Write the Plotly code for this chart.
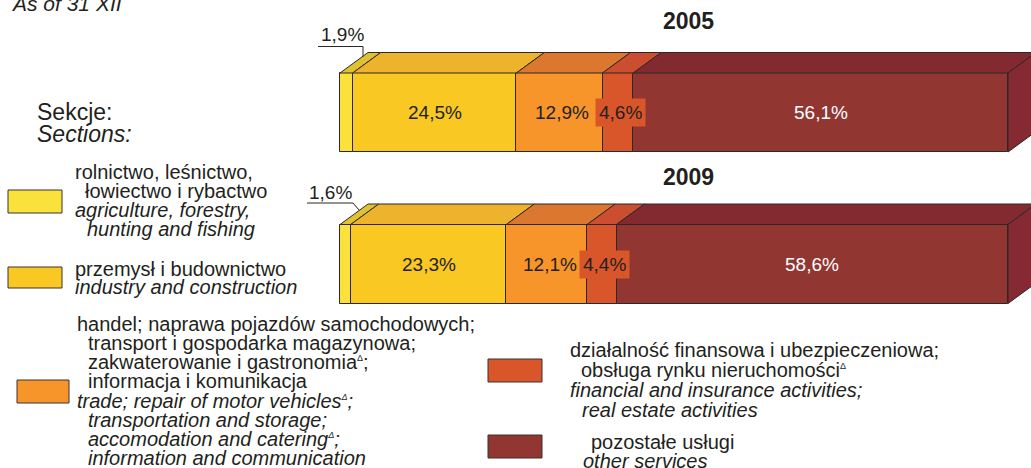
import plotly.graph_objects as go

# ---------------- data ----------------
years = ["2005", "2009"]
year_pos = [1.0, 0.0]
sections = [
    "rolnictwo, leśnictwo, łowiectwo i rybactwo",
    "przemysł i budownictwo",
    "handel; naprawa pojazdów samochodowych; transport i gospodarka magazynowa; zakwaterowanie i gastronomia; informacja i komunikacja",
    "działalność finansowa i ubezpieczeniowa; obsługa rynku nieruchomości",
    "pozostałe usługi",
]
values_2005 = [1.9, 24.5, 12.9, 4.6, 56.1]
values_2009 = [1.6, 23.3, 12.1, 4.4, 58.6]

# ---------------- styles ----------------
front_colors = ["#FBE13B", "#F9C823", "#F7952A", "#D9562B", "#923631"]
top_colors = ["#DFC22F", "#EDB32C", "#DB772E", "#CB4E31", "#832A31"]
side_color = "#852A32"
edge = "#2E2727"
txt = "#231F20"
FONT = "Liberation Sans, Arial, sans-serif"

W, H = 1031, 468
PX_X = 6.68          # px per percent
X0_PX = 340          # px of 0%
PX_Y = 151.5         # px per y unit
Y1_PX = 112.5        # px of centre of y=1
BAR_W = 79 / PX_Y
DX = 28 / PX_X
DY = 20.5 / PX_Y


def dxp(px):
    return px / PX_X


def dyp(px):
    return -px / PX_Y


def ppx(x):
    return x / W


def ppy(y):
    return 1 - y / H


fig = go.Figure()

all_vals = [values_2005, values_2009]
cums = []
for vals in all_vals:
    c, s = [], 0.0
    for v in vals:
        c.append(s)
        s += v
    cums.append(c)

# front faces
for i in range(len(sections)):
    fig.add_trace(go.Bar(
        orientation="h",
        y=year_pos,
        x=[all_vals[0][i], all_vals[1][i]],
        base=[cums[0][i], cums[1][i]],
        width=BAR_W,
        marker=dict(color=front_colors[i], line=dict(color=edge, width=1)),
        showlegend=False, hoverinfo="skip", textposition="none",
    ))

# top faces
for i in range(len(sections)):
    xs, ys = [], []
    for j, yp in enumerate(year_pos):
        x0 = cums[j][i]
        x1 = x0 + all_vals[j][i]
        yt = yp + BAR_W / 2
        xs += [x0, x1, x1 + DX, x0 + DX, x0, None]
        ys += [yt, yt, yt + DY, yt + DY, yt, None]
    fig.add_trace(go.Scatter(
        x=xs, y=ys, mode="lines", fill="toself", fillcolor=top_colors[i],
        line=dict(color=edge, width=1), showlegend=False, hoverinfo="skip",
    ))

# right side face of the last segment
xs, ys = [], []
for j, yp in enumerate(year_pos):
    T = cums[j][-1] + all_vals[j][-1]
    yt = yp + BAR_W / 2
    yb = yp - BAR_W / 2
    xs += [T, T, T + DX, T + DX, T, None]
    ys += [yb, yt, yt + DY, yb + DY, yb, None]
fig.add_trace(go.Scatter(
    x=xs, y=ys, mode="lines", fill="toself", fillcolor=side_color,
    line=dict(color=edge, width=1), showlegend=False, hoverinfo="skip",
))


def fmt(v):
    return f"{v:.1f}".replace(".", ",") + "%"


annotations = []
# value labels inside the bars
for j, yp in enumerate(year_pos):
    for i in range(1, len(sections)):
        v = all_vals[j][i]
        a = dict(x=cums[j][i] + v / 2, y=yp, xref="x", yref="y", text=fmt(v),
                 xanchor="center", yanchor="middle",
                 showarrow=False, font=dict(family=FONT, size=19,
                                            color="#FFFFFF" if i == 4 else txt))
        if i == 2:
            a["xshift"] = 3
        if i == 3:
            a["bgcolor"] = front_colors[3]
            a["borderpad"] = 3
            a["xshift"] = 3
        annotations.append(a)

# small first segment labels with leader lines
leader_px = [
    [(-50, -6), (-5, -6), (-5, 4)],
    [(-61, -1), (-15, -1), (-9, 6)],
]
label_px = [(-26, -18), (-38, -12)]
for j, yp in enumerate(year_pos):
    bx = cums[j][0] + DX
    by = yp + BAR_W / 2 + DY
    pts = leader_px[j]
    fig.add_trace(go.Scatter(
        x=[bx + dxp(p[0]) for p in pts], y=[by + dyp(p[1]) for p in pts],
        mode="lines", line=dict(color=edge, width=1),
        showlegend=False, hoverinfo="skip", cliponaxis=False,
    ))
    annotations.append(dict(
        x=bx + dxp(label_px[j][0]), y=by + dyp(label_px[j][1]), xref="x", yref="y",
        xanchor="center", yanchor="middle",
        text=fmt(all_vals[j][0]), showarrow=False,
        font=dict(family=FONT, size=19, color=txt)))

# year titles
for yr, ypix in zip(years, [21, 177]):
    annotations.append(dict(x=ppx(688), y=ppy(ypix), xref="paper", yref="paper",
                            xanchor="center", yanchor="middle",
                            text=f"<b>{yr}</b>", showarrow=False,
                            font=dict(family=FONT, size=23, color=txt)))

# header texts
annotations.append(dict(x=ppx(9), y=ppy(4), xref="paper", yref="paper",
                        xanchor="left", yanchor="middle",
                        text="<i>As of 31 XII</i>", showarrow=False,
                        font=dict(family=FONT, size=21, color=txt)))
annotations.append(dict(x=ppx(35), y=ppy(112), xref="paper", yref="paper",
                        xanchor="left", yanchor="middle",
                        text="Sekcje:", showarrow=False,
                        font=dict(family=FONT, size=23, color=txt)))
annotations.append(dict(x=ppx(35), y=ppy(134), xref="paper", yref="paper",
                        xanchor="left", yanchor="middle",
                        text="<i>Sections:</i>", showarrow=False,
                        font=dict(family=FONT, size=23, color=txt)))

# legend
D = '<sup><span style="font-size:9px">Δ</span></sup>'
legend_items = [
    ((8, 190, 62, 213), 0, [
        (73, 172, "rolnictwo, leśnictwo,", False),
        (83, 191, "łowiectwo i rybactwo", False),
        (73, 210, "agriculture, forestry,", True),
        (85, 229, "hunting and fishing", True)]),
    ((8, 267, 62, 288), 1, [
        (73, 269, "przemysł i budownictwo", False),
        (73, 287, "industry and construction", True)]),
    ((17, 380, 69, 403), 2, [
        (75, 324, "handel; naprawa pojazdów samochodowych;", False),
        (86, 343, "transport i gospodarka magazynowa;", False),
        (86, 362, "zakwaterowanie i gastronomia" + D + ";", False),
        (86, 381, "informacja i komunikacja", False),
        (75, 401, "trade; repair of motor vehicles" + D + ";", True),
        (86, 420, "transportation and storage;", True),
        (86, 439, "accomodation and catering" + D + ";", True),
        (86, 458, "information and communication", True)]),
    ((488, 359, 542, 382), 3, [
        (568, 350, "działalność finansowa i ubezpieczeniowa;", False),
        (579, 370, "obsługa rynku nieruchomości" + D, False),
        (568, 390, "financial and insurance activities;", True),
        (580, 410, "real estate activities", True)]),
    ((488, 435, 542, 458), 4, [
        (589, 442, "pozostałe usługi", False),
        (581, 461, "other services", True)]),
]
shapes = []
for (x0, y0, x1, y1), ci, lines in legend_items:
    shapes.append(dict(type="rect", xref="paper", yref="paper",
                       x0=ppx(x0), x1=ppx(x1), y0=ppy(y1), y1=ppy(y0),
                       fillcolor=front_colors[ci], line=dict(color="#3A3333", width=1)))
    for lx, ly, t, it in lines:
        annotations.append(dict(x=ppx(lx), y=ppy(ly), xref="paper", yref="paper",
                                xanchor="left", yanchor="middle",
                                text=f"<i>{t}</i>" if it else t, showarrow=False,
                                font=dict(family=FONT, size=20, color=txt)))

fig.update_layout(
    width=W, height=H, margin=dict(l=0, r=0, t=0, b=0),
    paper_bgcolor="white", plot_bgcolor="white",
    barmode="overlay", bargap=0,
    xaxis=dict(range=[-X0_PX / PX_X, (W - X0_PX) / PX_X], visible=False, fixedrange=True),
    yaxis=dict(range=[1 - (H - Y1_PX) / PX_Y, 1 + Y1_PX / PX_Y], visible=False, fixedrange=True),
    annotations=annotations, shapes=shapes, showlegend=False,
)

fig.write_html(
    "out.html",
    config={"displayModeBar": False},
    post_script="document.body.style.margin='0';document.body.style.overflow='hidden';",
)
